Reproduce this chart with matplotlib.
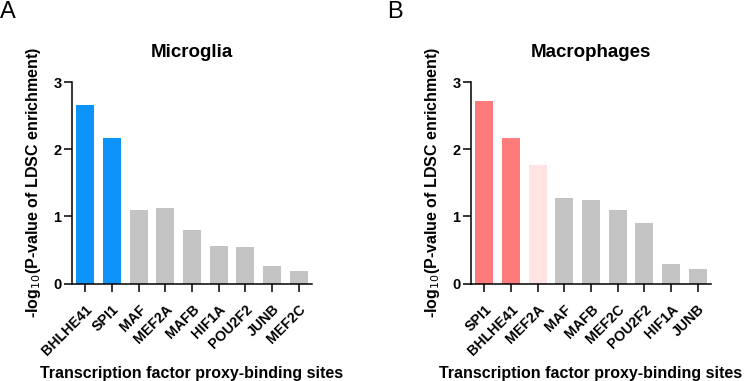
import matplotlib
matplotlib.use("Agg")
import matplotlib.pyplot as plt
import matplotlib.transforms as mtrans

plt.rcParams['font.family'] = ['Liberation Sans', 'DejaVu Sans']

# --- dados ---
micro_tfs = ['BHLHE41', 'SPI1', 'MAF', 'MEF2A', 'MAFB', 'HIF1A', 'POU2F2', 'JUNB', 'MEF2C']
micro_vals = [2.66, 2.16, 1.09, 1.13, 0.80, 0.56, 0.54, 0.26, 0.19]
micro_cols = ['#0D94FB', '#0D94FB'] + ['#C3C3C3'] * 7

macro_tfs = ['SPI1', 'BHLHE41', 'MEF2A', 'MAF', 'MAFB', 'MEF2C', 'POU2F2', 'HIF1A', 'JUNB']
macro_vals = [2.71, 2.16, 1.76, 1.27, 1.24, 1.10, 0.90, 0.29, 0.21]
macro_cols = ['#FF7B7B', '#FF7B7B', '#FFE2E2'] + ['#C3C3C3'] * 6

W, H = 744, 381
fig = plt.figure(figsize=(W / 100, H / 100), dpi=100)


def painel(left_px, tfs, vals, cols, titulo, letra, letra_x):
    ax = fig.add_axes([left_px / W, 1 - 283.5 / H, 240 / W, 201.5 / H])
    x = range(len(tfs))
    ax.bar(x, vals, width=0.68, color=cols)
    ax.set_xlim(-0.5, len(tfs) - 0.5)
    ax.set_ylim(0, 3)
    ax.set_yticks([0, 1, 2, 3])
    ax.set_xticks(list(x))
    ax.set_xticklabels(tfs, rotation=45, ha='right', rotation_mode='anchor',
                       fontsize=10.2, fontweight='bold')
    # desloca os rótulos um pouco para a esquerda
    desloc = mtrans.ScaledTranslation(-6 / 72, 0, fig.dpi_scale_trans)
    for t in ax.get_xticklabels():
        t.set_transform(t.get_transform() + desloc)
    for t in ax.get_yticklabels():
        t.set_fontweight('bold')
        t.set_fontsize(10.5)
    for s in ['top', 'right']:
        ax.spines[s].set_visible(False)
    for s in ['left', 'bottom']:
        ax.spines[s].set_linewidth(1.1)
    ax.tick_params(width=1.1, length=5.5)
    ax.tick_params(axis='y', pad=2)
    ax.tick_params(axis='x', pad=8)
    ax.set_title(titulo, fontsize=13.5, fontweight='bold', pad=18)
    ax.set_ylabel('-log$_{10}$(P-value of LDSC enrichment)', fontsize=11.5,
                  fontweight='bold')
    ax.yaxis.set_label_coords(-0.121, 0.5)
    ax.set_xlabel('Transcription factor proxy-binding sites', fontsize=11.5,
                  fontweight='bold')
    ax.xaxis.set_label_coords(0.5, -0.41)
    fig.text(letra_x / W, 1 - 1 / H, letra, fontsize=17, va='top', ha='left')
    return ax


painel(72, micro_tfs, micro_vals, micro_cols, 'Microglia', 'A', 0)
painel(471, macro_tfs, macro_vals, macro_cols, 'Macrophages', 'B', 387)

fig.savefig('out.png', dpi=100)
